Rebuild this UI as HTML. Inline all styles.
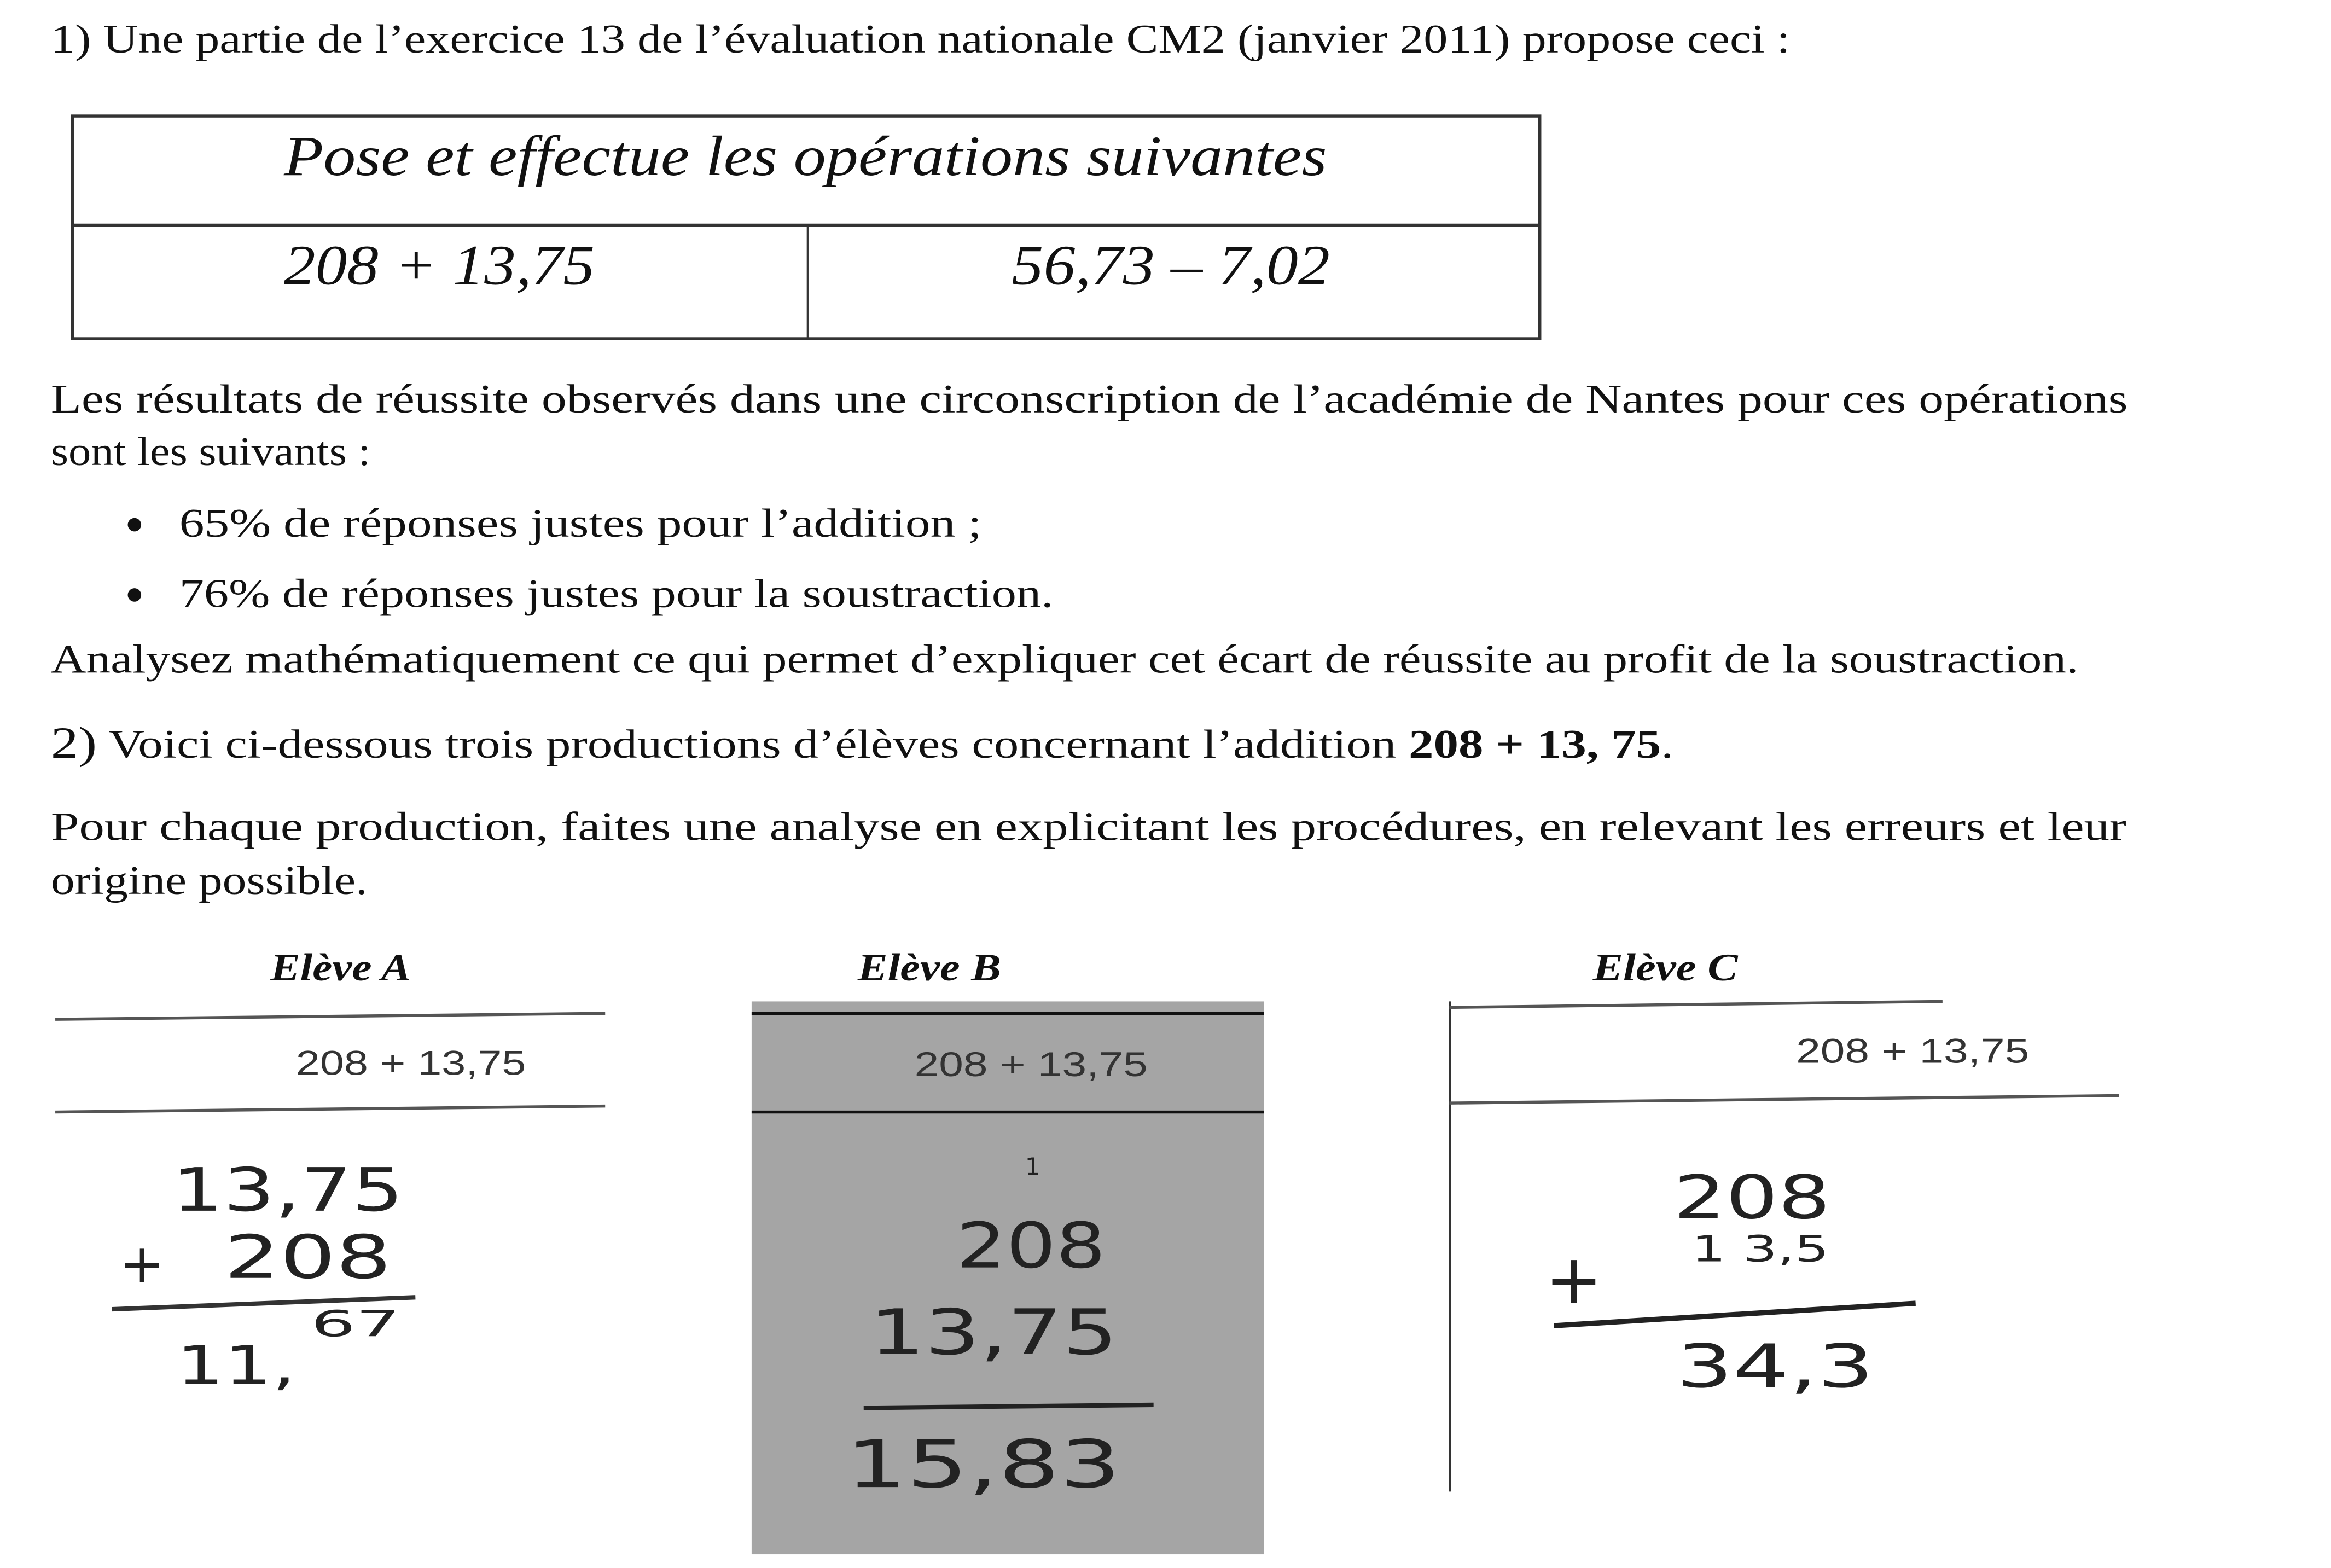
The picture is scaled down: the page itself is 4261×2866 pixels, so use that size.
<!DOCTYPE html>
<html><head><meta charset="utf-8"><style>
html,body{margin:0;padding:0;background:#fff;}
svg{display:block;}
.t{font-family:"Liberation Serif",serif;font-size:27px;fill:#111;}
.it{font-family:"Liberation Serif",serif;font-style:italic;fill:#111;}
.pr{font-family:"Liberation Sans",sans-serif;font-size:23px;fill:#333;}
.hw{font-family:"DejaVu Sans",sans-serif;fill:#222;}
</style></head><body>
<svg width="4261" height="2866" viewBox="0 0 1560 1049" xmlns="http://www.w3.org/2000/svg">
<rect width="1560" height="1049" fill="#fff"/>
<text class="t" x="34" y="35" textLength="1164" lengthAdjust="spacingAndGlyphs">1)  Une partie de l’exercice 13 de l’évaluation nationale CM2 (janvier 2011) propose ceci :</text>

<g>
<rect x="48.5" y="77.5" width="982" height="149" fill="none" stroke="#333" stroke-width="2"/>
<line x1="48" y1="150.5" x2="1031" y2="150.5" stroke="#333" stroke-width="2"/>
<line x1="540.5" y1="150" x2="540.5" y2="227" stroke="#333" stroke-width="1.2"/>
<text class="it" font-size="38" x="190" y="117" textLength="698" lengthAdjust="spacingAndGlyphs">Pose et effectue les opérations suivantes</text>
<text class="it" font-size="38" x="190" y="190" textLength="208" lengthAdjust="spacingAndGlyphs">208 + 13,75</text>
<text class="it" font-size="38" x="677" y="190" textLength="213" lengthAdjust="spacingAndGlyphs">56,73 – 7,02</text>
</g>

<text class="t" x="34" y="276" textLength="1390" lengthAdjust="spacingAndGlyphs">Les résultats de réussite observés dans une circonscription de l’académie de Nantes pour ces opérations</text>
<text class="t" x="34" y="311" textLength="214" lengthAdjust="spacingAndGlyphs">sont les suivants :</text>
<circle cx="90" cy="351" r="4.5" fill="#111"/>
<text class="t" x="120" y="359" textLength="537" lengthAdjust="spacingAndGlyphs">65% de réponses justes pour l’addition ;</text>
<circle cx="90" cy="398" r="4.5" fill="#111"/>
<text class="t" x="120" y="406" textLength="585" lengthAdjust="spacingAndGlyphs">76% de réponses justes pour la soustraction.</text>
<text class="t" x="34" y="450" textLength="1357" lengthAdjust="spacingAndGlyphs">Analysez mathématiquement ce qui permet d’expliquer cet écart de réussite au profit de la soustraction.</text>
<text class="t" x="34" y="507" textLength="1086" lengthAdjust="spacingAndGlyphs"><tspan font-size="30">2)</tspan> Voici ci-dessous trois productions d’élèves concernant l’addition <tspan font-weight="bold">208 + 13, 75</tspan>.</text>
<text class="t" x="34" y="562" textLength="1389" lengthAdjust="spacingAndGlyphs">Pour chaque production, faites une analyse en explicitant les procédures, en relevant les erreurs et leur</text>
<text class="t" x="34" y="598" textLength="212" lengthAdjust="spacingAndGlyphs">origine possible.</text>

<!-- Eleve A -->
<g>
<text class="it" font-weight="bold" font-size="26" x="181" y="656" textLength="94" lengthAdjust="spacingAndGlyphs">Elève A</text>
<line x1="37" y1="682" x2="405" y2="678" stroke="#555" stroke-width="2"/>
<text class="pr" x="198" y="719" textLength="154" lengthAdjust="spacingAndGlyphs">208 + 13,75</text>
<line x1="37" y1="744" x2="405" y2="740" stroke="#555" stroke-width="2"/>
<text class="hw" font-size="40" x="115" y="810" textLength="155" lengthAdjust="spacingAndGlyphs">13,75</text>
<text class="hw" font-size="36" x="80" y="858">+</text>
<text class="hw" font-size="40" x="150" y="855" textLength="112" lengthAdjust="spacingAndGlyphs">208</text>
<line x1="75" y1="876" x2="278" y2="868" stroke="#333" stroke-width="3"/>
<text class="hw" font-size="36" x="118" y="926" textLength="80" lengthAdjust="spacingAndGlyphs">11,</text>
<text class="hw" font-size="24" x="208" y="894" textLength="60" lengthAdjust="spacingAndGlyphs">67</text>
</g>

<!-- Eleve B -->
<g>
<text class="it" font-weight="bold" font-size="26" x="574" y="656" textLength="96" lengthAdjust="spacingAndGlyphs">Elève B</text>
<rect x="503" y="670" width="343" height="370" fill="#a5a5a5"/>
<line x1="503" y1="678" x2="846" y2="678" stroke="#111" stroke-width="2"/>
<text class="pr" x="612" y="720" fill="#111" textLength="156" lengthAdjust="spacingAndGlyphs">208 + 13,75</text>
<line x1="503" y1="744" x2="846" y2="744" stroke="#111" stroke-width="2"/>
<text class="hw" font-size="16" x="686" y="786">1</text>
<text class="hw" font-size="42" x="640" y="848" fill="#444" textLength="100" lengthAdjust="spacingAndGlyphs">208</text>
<text class="hw" font-size="42" x="582" y="906" fill="#333" textLength="166" lengthAdjust="spacingAndGlyphs">13,75</text>
<line x1="578" y1="942" x2="772" y2="940" stroke="#222" stroke-width="3"/>
<text class="hw" font-size="44" x="566" y="995" fill="#333" textLength="184" lengthAdjust="spacingAndGlyphs">15,83</text>
</g>

<!-- Eleve C -->
<g>
<text class="it" font-weight="bold" font-size="26" x="1066" y="656" textLength="97" lengthAdjust="spacingAndGlyphs">Elève C</text>
<line x1="970.5" y1="670" x2="970.5" y2="998" stroke="#333" stroke-width="1.5"/>
<line x1="970" y1="674" x2="1300" y2="670" stroke="#555" stroke-width="2"/>
<text class="pr" x="1202" y="711" textLength="156" lengthAdjust="spacingAndGlyphs">208 + 13,75</text>
<line x1="970" y1="738" x2="1418" y2="733" stroke="#555" stroke-width="2"/>
<text class="hw" font-size="40" x="1120" y="815" textLength="105" lengthAdjust="spacingAndGlyphs">208</text>
<text class="hw" font-size="24" x="1132" y="844" textLength="92" lengthAdjust="spacingAndGlyphs">1 3,5</text>
<text class="hw" font-size="46" x="1034" y="872">+</text>
<line x1="1040" y1="887" x2="1282" y2="872" stroke="#222" stroke-width="3.5"/>
<text class="hw" font-size="40" x="1122" y="928" textLength="132" lengthAdjust="spacingAndGlyphs">34,3</text>
</g>
</svg>
</body></html>
